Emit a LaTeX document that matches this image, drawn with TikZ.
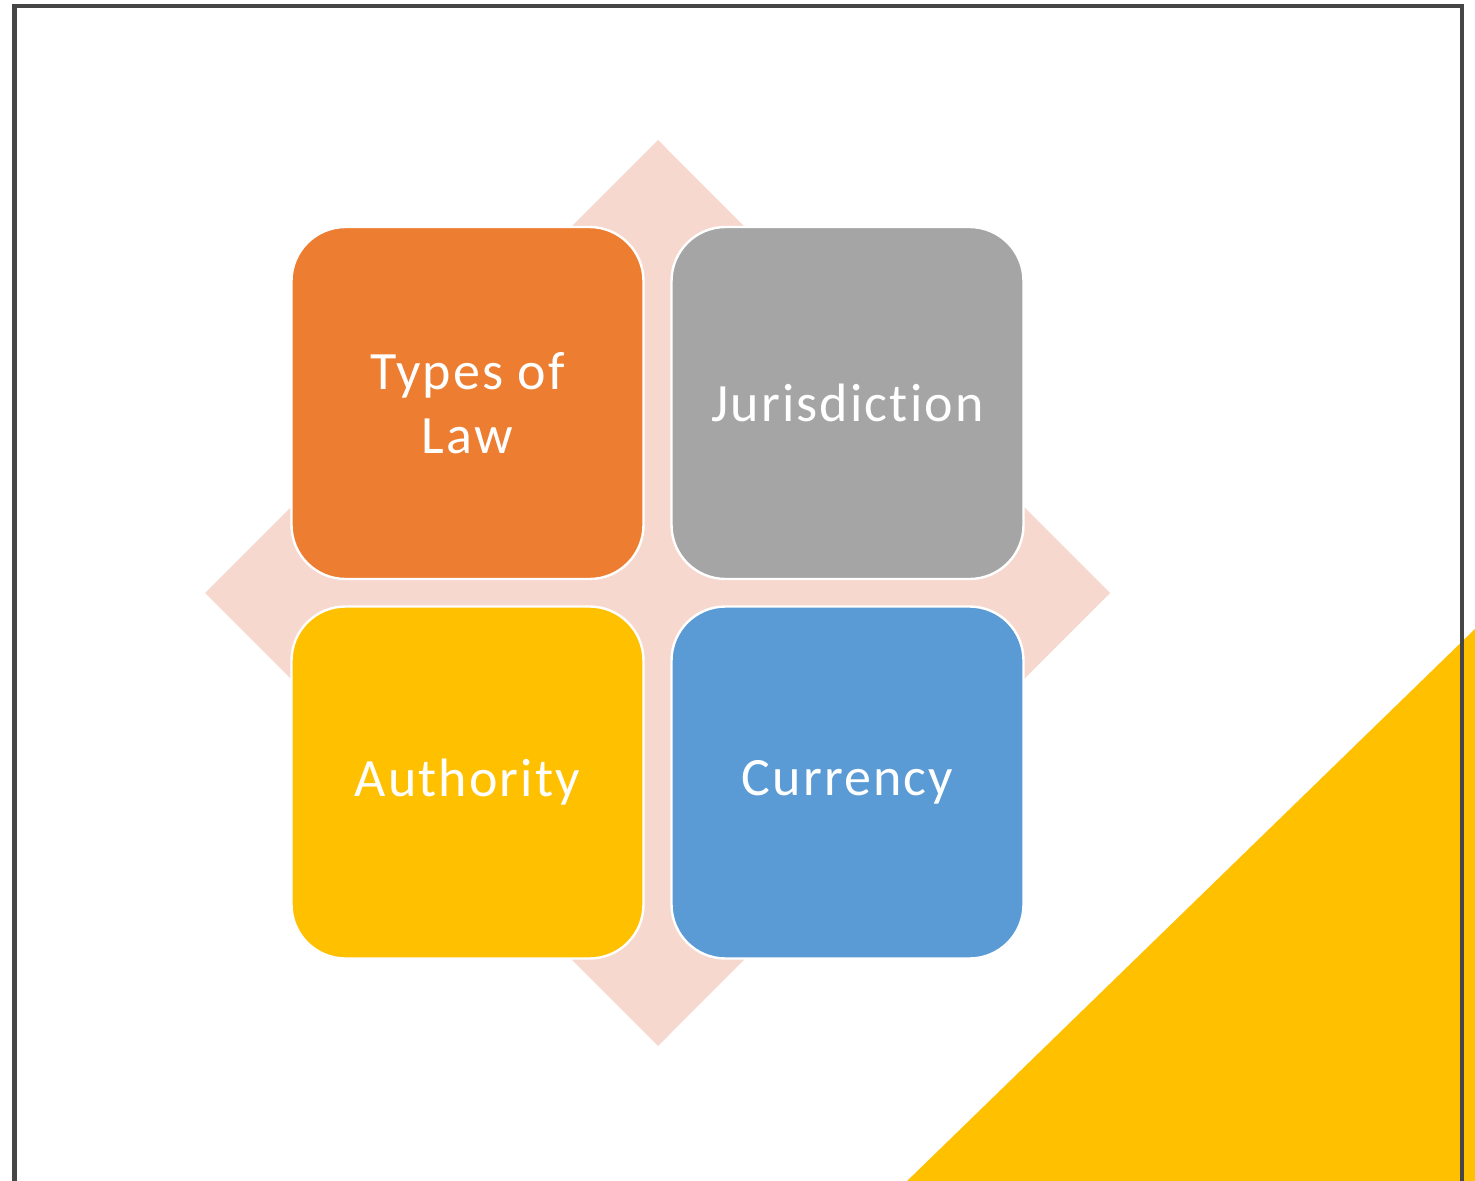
\documentclass[tikz,border=0pt]{standalone}
\usepackage{fontspec}
\setmainfont{Carlito}[Ligatures={NoCommon}, LetterSpace=4]
\usepackage{tikz}
\definecolor{cf7d8ce}{RGB}{247,216,206}
\definecolor{ced7d31}{RGB}{237,125,49}
\definecolor{ca5a5a5}{RGB}{165,165,165}
\definecolor{cffc000}{RGB}{255,192,0}
\definecolor{c5b9bd5}{RGB}{91,155,213}
\definecolor{c464646}{RGB}{70,70,70}
\tikzset{
  tile/.style={draw=white, line width=1.2pt, rounded corners=27pt,
    minimum width=176pt, minimum height=176pt, text=white, align=center,
    font=\fontsize{27}{32}\selectfont}
}

\begin{document}
\begin{tikzpicture}[y=0.5pt, x=0.5pt, yscale=-1, inner sep=0pt, outer sep=0pt]
  \useasboundingbox (0,0) rectangle (1475,1181);
  \path[fill=white] (0,0) rectangle (1475,1181);
  % corner triangle
  \path[fill=cffc000] (905,1183) -- (1477,627) -- (1477,1183) -- cycle;
  % frame
  \path[draw=c464646,line width=2.4pt] (14.5,6) -- (14.5,1200);
  \path[draw=c464646,line width=2.4pt] (12,6) -- (1462,6) -- (1462,1200);
  % diamond behind the tiles
  \path[fill=cf7d8ce] (658,140) -- (1110,593) -- (658,1046) -- (205,593) -- cycle;
  \node[tile,fill=ced7d31] (tile-law) at (467.5,403) {Types of\\Law};
  \node[tile,fill=ca5a5a5] (tile-juris) at (847.5,403) {Jurisdiction};
  \node[tile,fill=cffc000] (tile-auth) at (467.5,782.5) {Authority};
  \node[tile,fill=c5b9bd5] (tile-curr) at (847.5,782.5) {Currency};

\end{tikzpicture}
\end{document}
